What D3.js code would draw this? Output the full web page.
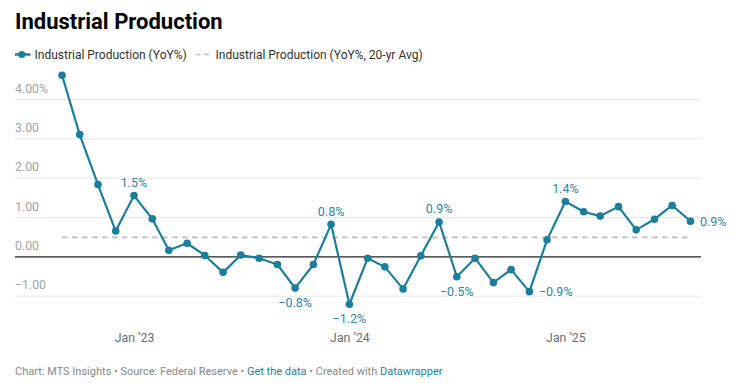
<!DOCTYPE html>
<html>
<head>
<meta charset="utf-8">
<script src="https://cdn.jsdelivr.net/npm/d3@7/dist/d3.min.js"></script>
<style>
  html, body { margin: 0; padding: 0; background: #fff; }
  svg { display: block; font-family: Roboto, "Noto Sans", sans-serif; }
</style>
</head>
<body>
<svg id="chart" width="736" height="383"></svg>
<script>
// ---- data ----
const months = ["2022-09","2022-10","2022-11","2022-12","2023-01","2023-02","2023-03","2023-04","2023-05","2023-06","2023-07","2023-08","2023-09","2023-10","2023-11","2023-12","2024-01","2024-02","2024-03","2024-04","2024-05","2024-06","2024-07","2024-08","2024-09","2024-10","2024-11","2024-12","2025-01","2025-02","2025-03","2025-04","2025-05","2025-06","2025-07","2025-08"];
const yoy = [4.59, 3.08, 1.81, 0.63, 1.53, 0.94, 0.14, 0.32, 0.01, -0.42, 0.02, -0.06, -0.22, -0.82, -0.22, 0.80, -1.23, -0.06, -0.28, -0.84, 0.00, 0.86, -0.53, -0.06, -0.68, -0.35, -0.91, 0.41, 1.38, 1.12, 1.01, 1.25, 0.66, 0.93, 1.28, 0.88];
const avg20 = 0.47;
const yTicks = [-1, 0, 1, 2, 3, 4];
const xTickDates = ["2023-01", "2024-01", "2025-01"];
const xTickLabels = ["Jan \u201923", "Jan \u201924", "Jan \u201925"];
// annotated points: index and placement
const labelIdx = [4, 13, 15, 16, 21, 22, 26, 28, 35];
const labelPos = ["above", "below", "above", "below", "above", "below", "right", "above", "right"];

const title = "Industrial Production";
const legendNames = ["Industrial Production (YoY%)", "Industrial Production (YoY%, 20-yr Avg)"];

// ---- setup ----
const W = 736, H = 383;
const teal = "#1b7e9b";
const labelTeal = "#2c86a6";
const parse = d3.timeParse("%Y-%m");
const dates = months.map(parse);
const data = dates.map((d, i) => ({ date: d, v: yoy[i] }));

const svg = d3.select("#chart");

const x = d3.scaleTime().domain(d3.extent(dates)).range([62, 690.5]);
const y = d3.scaleLinear().domain([-1, 4]).range([295.2, 98.4]);
const gridL = 15, gridR = 701;

// title
svg.append("text").attr("x", 15).attr("y", 29)
  .attr("font-size", 22).attr("font-weight", 700).attr("fill", "#000")
  .text(title);

// legend
const lg = svg.append("g");
lg.append("line").attr("x1", 15).attr("x2", 30.5).attr("y1", 54.5).attr("y2", 54.5)
  .attr("stroke", teal).attr("stroke-width", 2.5);
lg.append("circle").attr("cx", 21.8).attr("cy", 54.5).attr("r", 3.6).attr("fill", teal);
lg.append("text").attr("x", 34.5).attr("y", 58.6).attr("font-size", 12).attr("fill", "#333")
  .text(legendNames[0]);
lg.append("line").attr("x1", 196).attr("x2", 209).attr("y1", 54.5).attr("y2", 54.5)
  .attr("stroke", "#bbb").attr("stroke-width", 1.5).attr("stroke-dasharray", "4.5,4");
lg.append("text").attr("x", 215.5).attr("y", 58.6).attr("font-size", 12).attr("fill", "#333")
  .text(legendNames[1]);

// grid + y labels
const yAxis = d3.axisLeft(y).tickValues(yTicks).tickSize(0)
  .tickFormat(d => (d === 4 ? "4.00%" : d3.format(".2f")(d)));
const gy = svg.append("g").call(yAxis);
gy.select(".domain").remove();
gy.selectAll(".tick line").remove();
gy.selectAll(".tick").each(function(d) {
  const t = d3.select(this);
  t.append("line").attr("x1", gridL).attr("x2", gridR).attr("y1", 0.5).attr("y2", 0.5)
    .attr("stroke", d === 0 ? "#222" : "#e4e4e4").attr("stroke-width", d === 0 ? 1.2 : 1);
  t.select("text").attr("x", gridL).attr("dy", -6.3).attr("text-anchor", "start")
    .attr("font-size", 12.3).attr("font-family", "Roboto, sans-serif").attr("fill", "#a3a3a3")
    .text(d === 4 ? "4.00%" : (d < 0 ? "\u2212" + d3.format(".2f")(-d) : d3.format(".2f")(d)));
  t.select("text").raise();
});

// x axis labels
const xAxis = d3.axisBottom(x).tickValues(xTickDates.map(parse)).tickSize(0)
  .tickFormat((d, i) => xTickLabels[i]);
const gx = svg.append("g").attr("transform", "translate(0,329)").call(xAxis);
gx.select(".domain").remove();
gx.selectAll(".tick text").attr("font-size", 12.3).attr("font-family", "Roboto, sans-serif")
  .attr("fill", "#6b6b6b").attr("dy", 0).attr("y", 13);

// 20-yr avg dashed
svg.append("line").attr("x1", x(dates[0])).attr("x2", x(dates[dates.length - 1]))
  .attr("y1", y(avg20)).attr("y2", y(avg20))
  .attr("stroke", "#bdbdbd").attr("stroke-width", 1.6).attr("stroke-dasharray", "5.5,4.5");

// line
const line = d3.line().x(d => x(d.date)).y(d => y(d.v));
svg.append("path").datum(data).attr("d", line)
  .attr("fill", "none").attr("stroke", teal).attr("stroke-width", 2.2)
  .attr("stroke-linejoin", "round");
svg.append("g").selectAll("circle").data(data).join("circle")
  .attr("cx", d => x(d.date)).attr("cy", d => y(d.v)).attr("r", 3.8).attr("fill", teal);

// value labels
const fmt = v => (v < 0 ? "\u2212" : "") + d3.format(".1f")(Math.abs(v)) + "%";
labelIdx.forEach((idx, k) => {
  const d = data[idx], pos = labelPos[k];
  const px = x(d.date), py = y(d.v);
  const t = svg.append("text").attr("font-size", 12.5).attr("fill", labelTeal)
    .attr("stroke", "#fff").attr("stroke-width", 3).attr("paint-order", "stroke")
    .text(fmt(d.v));
  if (pos === "above") t.attr("x", px).attr("y", py - 8.5).attr("text-anchor", "middle");
  else if (pos === "below") t.attr("x", px).attr("y", py + 19).attr("text-anchor", "middle");
  else t.attr("x", px + 9.5).attr("y", py + 4.5).attr("text-anchor", "start");
});

// footer
const f = svg.append("text").attr("x", 15).attr("y", 374.5).attr("font-size", 11).attr("fill", "#8a8a8a");
f.append("tspan").text("Chart: MTS Insights \u2022 Source: Federal Reserve \u2022 ");
f.append("tspan").attr("fill", "#1d82a4").text("Get the data");
f.append("tspan").text(" \u2022 Created with ");
f.append("tspan").attr("fill", "#1d82a4").text("Datawrapper");
</script>
</body>
</html>
